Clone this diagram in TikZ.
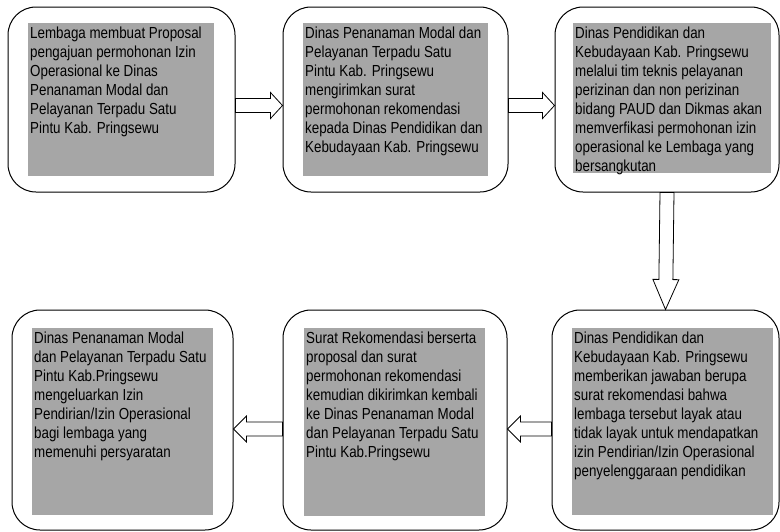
\documentclass[tikz,border=0pt]{standalone}
\usepackage{graphicx}
\usepackage{fontspec}
\setmainfont{Liberation Sans}
\usetikzlibrary{calc}
\definecolor{isiabu}{RGB}{166,166,166}

% teks rata kiri, dipadatkan mendatar
\newcommand{\isiteks}[3]{\scalebox{0.835}[1]{\parbox[t][#2][t]{#1}{\fontsize{16pt}{19pt}\selectfont\raggedright #3}}}

% panah blok berongga dari #2 ke #3, #1 = panjang kepala
\newcommand{\blockarrow}[3][12pt]{%
  \coordinate (ba-h) at ($(#3)!#1!(#2)$);
  \draw[panah] ($(#2)!7pt!90:(#3)$) -- ($(ba-h)!7pt!90:(#3)$) -- ($(ba-h)!13pt!90:(#3)$)
    -- (#3) -- ($(ba-h)!13pt!-90:(#3)$) -- ($(ba-h)!7pt!-90:(#3)$) -- ($(#2)!7pt!-90:(#3)$) -- cycle;}

\begin{document}
\begin{tikzpicture}[x=1pt, y=-1pt]
  \tikzstyle{proses}=[rectangle, draw, line width=1pt, rounded corners=28pt]
  \tikzstyle{isi}=[rectangle, fill=isiabu, inner xsep=2pt, inner ysep=3.5pt, anchor=north west, font=\fontsize{16pt}{19pt}\selectfont]
  \tikzstyle{panah}=[line width=0.8pt, line join=miter]

  \useasboundingbox (0,0) rectangle (780,531);

  % baris atas
  \node[proses, minimum width=227pt, minimum height=185pt] (p1) at (121.5,99.5) {};
  \node[proses, minimum width=225pt, minimum height=185pt] (p2) at (395.5,99.5) {};
  \node[proses, minimum width=224pt, minimum height=185pt] (p3) at (667,99.5) {};
  % baris bawah
  \node[proses, minimum width=221pt, minimum height=220pt] (p4) at (122.5,420) {};
  \node[proses, minimum width=224pt, minimum height=220pt] (p5) at (395,420) {};
  \node[proses, minimum width=227pt, minimum height=220pt] (p6) at (665.5,420) {};

  \node[isi] (t1) at (28,23) {\isiteks{218pt}{146pt}{%
    Lembaga membuat Proposal\\ pengajuan permohonan Izin\\ Operasional ke Dinas\\
    Penanaman Modal dan\\ Pelayanan Terpadu Satu\\ Pintu Kab. Pringsewu}};
  \node[isi] (t2) at (303,23) {\isiteks{216.5pt}{146pt}{%
    Dinas Penanaman Modal dan\\ Pelayanan Terpadu Satu\\ Pintu Kab. Pringsewu\\
    mengirimkan surat\\ permohonan rekomendasi\\ kepada Dinas Pendidikan dan\\
    Kebudayaan Kab. Pringsewu}};
  \node[isi] (t3) at (573,23) {\isiteks{232pt}{143pt}{%
    Dinas Pendidikan dan\\ Kebudayaan Kab. Pringsewu\\ melalui tim teknis pelayanan\\
    perizinan dan non perizinan\\ bidang PAUD dan Dikmas akan\\
    memverfikasi permohonan izin\\ operasional ke Lembaga yang\\ bersangkutan}};
  \node[isi] (t4) at (32,328) {\isiteks{212pt}{180pt}{%
    Dinas Penanaman Modal\\ dan Pelayanan Terpadu Satu\\ Pintu Kab.Pringsewu\\
    mengeluarkan Izin\\ Pendirian/Izin Operasional\\ bagi lembaga yang\\
    memenuhi persyaratan}};
  \node[isi] (t5) at (304,328) {\isiteks{212pt}{181pt}{%
    Surat Rekomendasi berserta\\ proposal dan surat\\ permohonan rekomendasi\\
    kemudian dikirimkan kembali\\ ke Dinas Penanaman Modal\\
    dan Pelayanan Terpadu Satu\\ Pintu Kab.Pringsewu}};
  \node[isi] (t6) at (572,328) {\isiteks{236pt}{180pt}{%
    Dinas Pendidikan dan\\ Kebudayaan Kab. Pringsewu\\ memberikan jawaban berupa\\
    surat rekomendasi bahwa\\ lembaga tersebut layak atau\\
    tidak layak untuk mendapatkan\\ izin Pendirian/Izin Operasional\\
    penyelenggaraan pendidikan}};

  % titik ujung panah
  \coordinate (a1) at ($(p1.east)+(0,6)$);
  \coordinate (a2) at ($(p2.west)+(0,6)$);
  \coordinate (a3) at ($(p2.east)+(0,6)$);
  \coordinate (a4) at ($(p3.west)+(0,6)$);
  \coordinate (a5) at ($(p6.west)+(0,9)$);
  \coordinate (a6) at ($(p5.east)+(0,9)$);
  \coordinate (a7) at ($(p5.west)+(0,9)$);
  \coordinate (a8) at ($(p4.east)+(0,9)$);

  \blockarrow{a1}{a2}
  \blockarrow{a3}{a4}
  \blockarrow[30pt]{p3.south}{p6.north}
  \blockarrow[13pt]{a5}{a6}
  \blockarrow[13pt]{a7}{a8}
\end{tikzpicture}
\end{document}
